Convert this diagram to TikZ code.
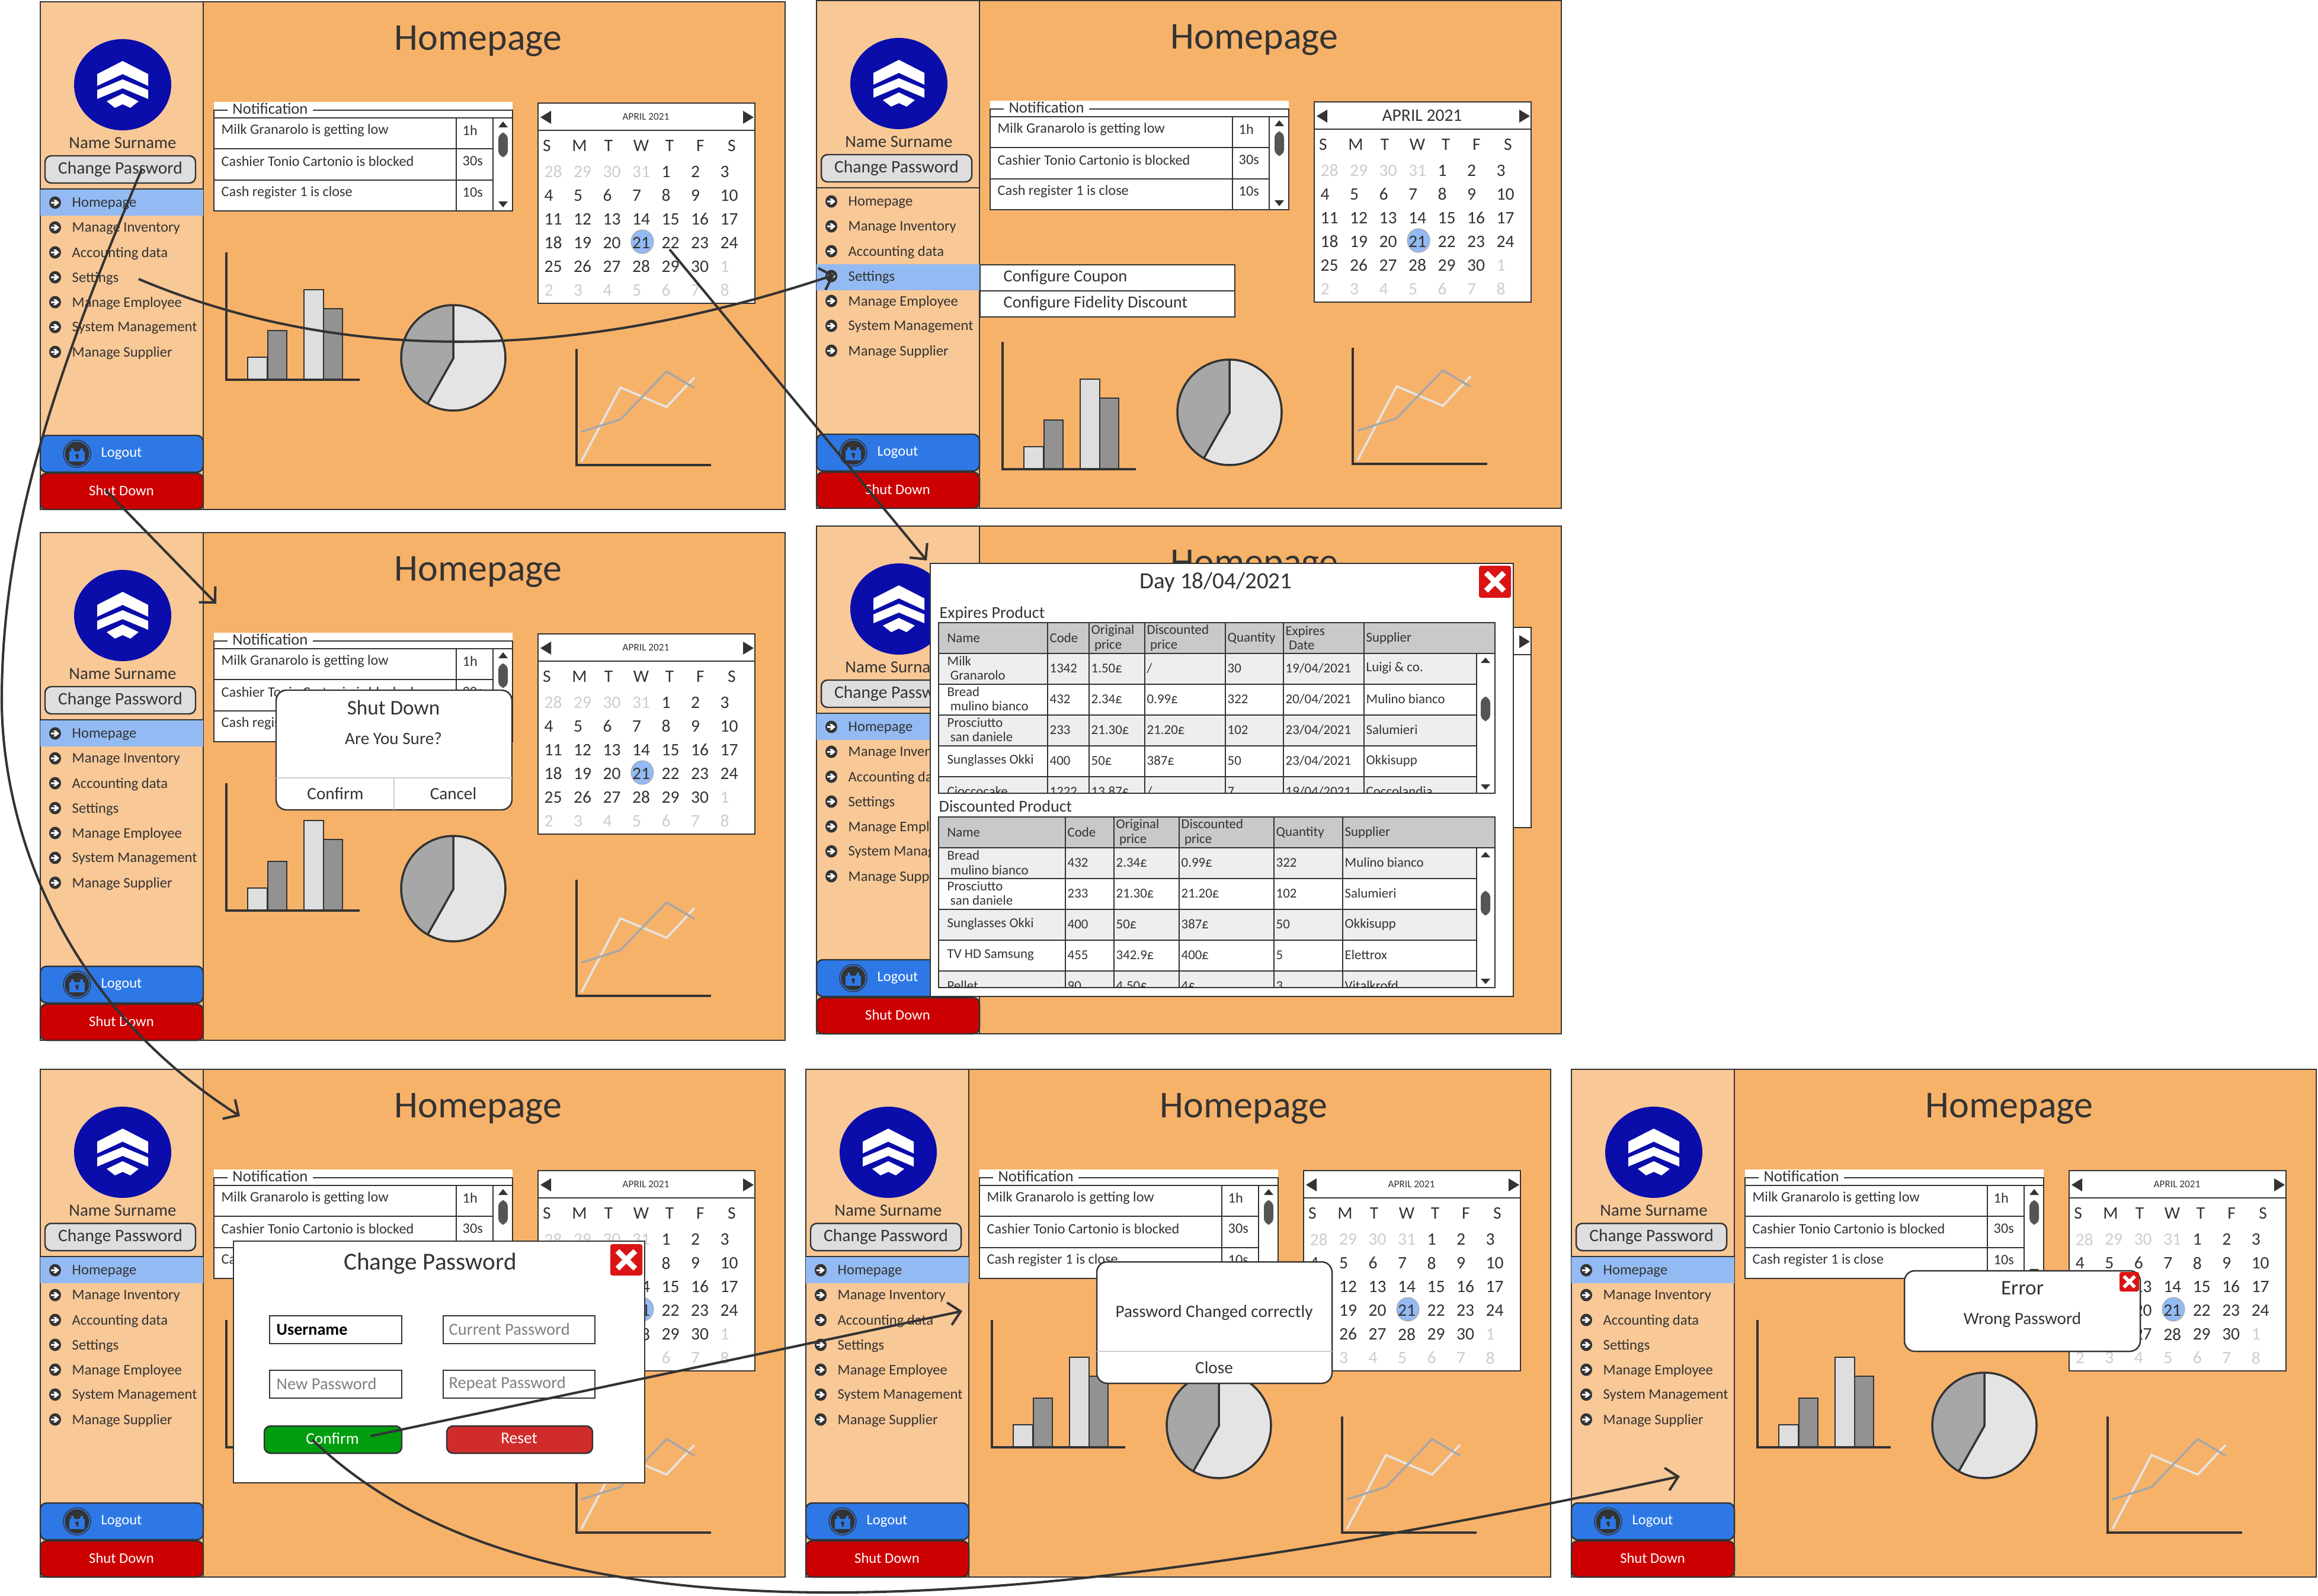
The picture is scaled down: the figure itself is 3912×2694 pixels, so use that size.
\documentclass[tikz,border=0pt]{standalone}
\usepackage{fontspec}
\setmainfont{Carlito}
\usetikzlibrary{arrows.meta}

% Text sizes, 1 unit of the picture is 0.01cm
\tikzset{
	every node/.style={inner sep=0pt, text=inkdark},
	pagetitle/.style={font=\fontsize{18.2}{19}\selectfont},
	nametext/.style={font=\fontsize{8.2}{9}\selectfont},
	menutext/.style={font=\fontsize{7}{8}\selectfont, anchor=west},
	rowtext/.style={font=\fontsize{6.9}{7}\selectfont, anchor=west},
	datetext/.style={font=\fontsize{8.4}{9}\selectfont},
	celltext/.style={font=\fontsize{6.5}{6.9}\selectfont, anchor=west, align=left},
	sectiontext/.style={font=\fontsize{8}{8}\selectfont, anchor=west},
	fieldtext/.style={font=\fontsize{8.1}{8}\selectfont, anchor=west, text=gray},
	dialogtitle/.style={font=\fontsize{10}{11}\selectfont},
	dialogtext/.style={font=\fontsize{8.3}{9}\selectfont},
	boxline/.style={draw=inkdark, line width=0.7pt},
	dialogbox/.style={boxline, fill=white, rounded corners=5pt},
	flowarrow/.style={draw=inkdark, line width=1.15pt, -{Straight Barb[length=5.5pt,width=11pt]}},
}

% One homepage screen: name, left, top, top of the marked menu row, shift of bars, shift of pie, size of month
\newcommand{\homescreen}[7]{
	\begin{scope}[shift={(#2,#3)}]
		% Main area and side bar
		\draw[boxline, fill=mainorange] (0,0) rectangle (1257,857);
		\draw[boxline, fill=sideorange] (0,0) rectangle (275,857);
		\node[pagetitle] (#1-title) at (739,66) {Homepage};

		% Logo
		\fill[logoblue] (139,140) ellipse [x radius=82, y radius=77];
		\fill[white] (96,122) -- (139,100) -- (182,122) -- (182,142) -- (139,122) -- (96,142) -- cycle;
		\fill[white] (96,149) -- (139,131) -- (182,149) -- (182,164) -- (139,146) -- (96,164) -- cycle;
		\fill[white] (112,168) -- (139,155) -- (166,168) -- (152,179) -- (139,173) -- (126,179) -- cycle;
		\node[nametext] (#1-name) at (139,238) {Name Surname};

		% Change password button
		\draw[boxline, fill=buttongray, rounded corners=3pt] (8,260) rectangle (262,306);
		\node[font=\fontsize{8.4}{9}\selectfont] (#1-change) at (135,283) {Change Password};
		\draw[boxline] (0,316) -- (275,316);

		% Menu
		\fill[markblue] (0,#4) rectangle (275,#4+44);
		\foreach \lbl/\my [count=\k] in {Homepage/339, Manage Inventory/381, Accounting data/423, Settings/465, Manage Employee/507, System Management/549, Manage Supplier/591} {
			\fill[inkdark] (25,\my) ellipse [x radius=10, y radius=10.5];
			\fill[white] (18,\my-1.5) -- (25,\my-1.5) -- (22,\my-5) -- (26,\my-5) -- (32,\my) -- (26,\my+5) -- (22,\my+5) -- (25,\my+1.5) -- (18,\my+1.5) -- cycle;
			\node[menutext] (#1-menu\k) at (53,\my+2) {\lbl};
		}

		% Logout button
		\draw[boxline, fill=logoutblue, rounded corners=3pt] (0,732) rectangle (275,794);
		\draw[inkdark, line width=0.4pt] (62,763) ellipse [x radius=23, y radius=23];
		\fill[inkdark] (62,763) ellipse [x radius=20.5, y radius=20.5];
		\draw[logoutblue, line width=1pt] (54,761) -- (54,754) arc [start angle=180, end angle=360, x radius=8, y radius=-8] -- (70,761);
		\fill[logoutblue] (49,759) rectangle (75,776);
		\fill[inkdark] (62,766) ellipse [x radius=3, y radius=3];
		\fill[inkdark] (60.5,766) rectangle (63.5,772);
		\node[font=\fontsize{7}{8}\selectfont, text=white] (#1-logout) at (137,763) {Logout};

		% Shut down button
		\draw[boxline, fill=shutred, rounded corners=3pt] (0,796) rectangle (275,857);
		\node[font=\fontsize{7}{8}\selectfont, text=white] (#1-shut) at (137,825) {Shut Down};

		% Notification panel
		\fill[white] (293,169) rectangle (797,353);
		\draw[boxline] (293,183) rectangle (797,353);
		\draw[boxline] (293,196) -- (797,196);
		\node[font=\fontsize{7.6}{8}\selectfont, anchor=west, fill=white, inner xsep=2.5pt] (#1-notif) at (315,180) {Notification};
		\foreach \ntop/\nbot/\ntxt/\ntime [count=\k] in {196/248/Milk Granarolo is getting low/1h, 248/301/Cashier Tonio Cartonio is blocked/30s, 301/353/Cash register 1 is close/10s} {
			\draw[boxline] (293,\ntop) rectangle (702,\nbot);
			\draw[boxline] (702,\ntop) rectangle (764,\nbot);
			\node[rowtext] (#1-note\k) at (305,\ntop+21) {\ntxt};
			\node[rowtext] (#1-time\k) at (712,\ntop+21) {\ntime};
		}
		\fill[thumbgray, rounded corners=3pt] (773,221) rectangle (789,262);
		\fill[inkdark] (781,202) -- (789,212) -- (773,212) -- cycle;
		\fill[inkdark] (781,347) -- (789,337) -- (773,337) -- cycle;

		% Calendar
		\draw[boxline, fill=white] (840,171) rectangle (1206,509);
		\draw[boxline] (840,217) -- (1206,217);
		\fill[inkdark] (844,195) -- (862,184) -- (862,206) -- cycle;
		\fill[inkdark] (1204,195) -- (1186,184) -- (1186,206) -- cycle;
		\node[font=#7] (#1-month) at (1022,194) {APRIL 2021};
		\foreach \wday/\wx [count=\k] in {S/855, M/910, T/959, W/1014, T/1062, F/1114, S/1167} {
			\node[datetext] (#1-wd\k) at (\wx,243) {\wday};
		}
		\fill[markblue, draw=gray!70, line width=0.3pt] (1016,405) ellipse [x radius=19, y radius=20];
		\foreach \dnum [count=\cnt from 0] in {28,29,30,31,1,2,3,4,5,6,7,8,9,10,11,12,13,14,15,16,17,18,19,20,21,22,23,24,25,26,27,28,29,30,1,2,3,4,5,6,7,8} {
			\pgfmathtruncatemacro{\col}{mod(\cnt,7)}
			\pgfmathtruncatemacro{\row}{int(\cnt/7)}
			\ifnum\cnt<4 \def\dcol{dategray}\else\ifnum\cnt>33 \def\dcol{dategray}\else\def\dcol{inkdark}\fi\fi
			\node[datetext, anchor=west, text=\dcol] (#1-d\cnt) at ({850+49.5*\col},{287+40*\row}) {\dnum};
		}

		% Bar chart
		\begin{scope}[yshift=#5*-0.01cm]
			\draw[boxline, fill=barlight] (350,600) rectangle (383,638);
			\draw[boxline, fill=bardark] (384,555) rectangle (416,638);
			\draw[boxline, fill=barlight] (445,486) rectangle (478,638);
			\draw[boxline, fill=bardark] (478,518) rectangle (510,638);
			\draw[draw=inkdark, line width=1pt] (314,423) -- (314,638) -- (539,638);
		\end{scope}

		% Pie chart
		\begin{scope}[yshift=#6*-0.01cm]
			\fill[barlight!80!white] (697,601) ellipse [x radius=88, y radius=89];
			\fill[piedark] (697,602) -- (697,512) arc [start angle=-90, end angle=-240, x radius=88, y radius=89] -- cycle;
			\draw[draw=inkdark, line width=1pt] (697,601) ellipse [x radius=88, y radius=89];
			\draw[draw=inkdark, line width=1pt] (697,512) -- (697,602) -- (654,678);
		\end{scope}

		% Line chart
		\draw[draw=inkdark, line width=1pt] (905,586) -- (905,782) -- (1132,782);
		\draw[draw=barlight!80!white, line width=1pt] (913,776) -- (979,651) -- (1057,684) -- (1104,634);
		\draw[draw=piedark, line width=1pt] (913,726) -- (979,705) -- (1057,624) -- (1104,652);
	\end{scope}
}

% Red close button: left, top, right, bottom, width of the cross
\newcommand{\closebox}[5]{
	\fill[closered, rounded corners=1pt] (#1,#2) rectangle (#3,#4);
	\draw[white, line width=#5] ({#1+0.22*(#3-#1)},{#2+0.22*(#4-#2)}) -- ({#3-0.22*(#3-#1)},{#4-0.22*(#4-#2)});
	\draw[white, line width=#5] ({#3-0.22*(#3-#1)},{#2+0.22*(#4-#2)}) -- ({#1+0.22*(#3-#1)},{#4-0.22*(#4-#2)});
}

\begin{document}
\begin{tikzpicture}[x=0.01cm, y=-0.01cm]
	% Define colors
	\definecolor{inkdark}{RGB}{51, 51, 51}
	\definecolor{mainorange}{RGB}{247, 178, 106}
	\definecolor{sideorange}{RGB}{248, 200, 150}
	\definecolor{logoblue}{RGB}{10, 13, 170}
	\definecolor{markblue}{RGB}{147, 186, 242}
	\definecolor{logoutblue}{RGB}{46, 120, 230}
	\definecolor{shutred}{RGB}{204, 0, 0}
	\definecolor{closered}{RGB}{218, 20, 20}
	\definecolor{buttongray}{RGB}{222, 222, 222}
	\definecolor{thumbgray}{RGB}{85, 85, 85}
	\definecolor{dategray}{RGB}{205, 205, 205}
	\definecolor{barlight}{RGB}{222, 222, 222}
	\definecolor{bardark}{RGB}{146, 146, 146}
	\definecolor{piedark}{RGB}{167, 167, 167}
	\definecolor{headgray}{RGB}{201, 201, 201}
	\definecolor{rowgray}{RGB}{238, 238, 238}
	\definecolor{okgreen}{RGB}{0, 158, 15}
	\definecolor{resetred}{RGB}{208, 44, 44}
	\useasboundingbox (0,0) rectangle (3912,2694);

	% ===== SCREENS =====
	\homescreen{home}{68}{3}{317}{0}{0}{\fontsize{4.9}{5}\selectfont}
	\homescreen{conf}{1378}{1}{445}{153}{94}{\fontsize{8.4}{9}\selectfont}
	\homescreen{shut}{68}{899}{317}{0}{0}{\fontsize{4.9}{5}\selectfont}
	\homescreen{day}{1378}{888}{317}{0}{0}{\fontsize{4.9}{5}\selectfont}
	\homescreen{pass}{68}{1805}{317}{0}{0}{\fontsize{4.9}{5}\selectfont}
	\homescreen{okay}{1360}{1805}{317}{0}{0}{\fontsize{4.9}{5}\selectfont}
	\homescreen{fail}{2652}{1805}{317}{0}{0}{\fontsize{4.9}{5}\selectfont}

	% ===== SETTINGS SUBMENU =====
	\draw[boxline, fill=white] (1654,447) rectangle (2084,491);
	\draw[boxline, fill=white] (1654,491) rectangle (2084,535);
	\node[font=\fontsize{8.1}{9}\selectfont, anchor=west] (coupon) at (1693,468) {Configure Coupon};
	\node[font=\fontsize{8.1}{9}\selectfont, anchor=west] (fidelity) at (1693,512) {Configure Fidelity Discount};

	% ===== SHUT DOWN DIALOG =====
	\draw[dialogbox] (466,1165) rectangle (864,1367);
	\draw[draw=dategray, line width=0.7pt] (466,1313) -- (864,1313);
	\draw[draw=dategray, line width=0.7pt] (665,1313) -- (665,1367);
	\node[dialogtitle] (shuttitle) at (664,1194) {Shut Down};
	\node[dialogtext] (shutsure) at (664,1247) {Are You Sure?};
	\node[dialogtext] (shutok) at (566,1339) {Confirm};
	\node[dialogtext] (shutno) at (765,1339) {Cancel};

	% ===== DAY DIALOG =====
	\draw[boxline, fill=white] (1570,951) rectangle (2554,1682);
	\closebox{2496}{955}{2550}{1009}{2.6pt}
	\node[font=\fontsize{11.1}{12}\selectfont] (daytitle) at (2052,983) {Day 18/04/2021};
	\node[sectiontext] (expires) at (1585,1036) {Expires Product};

	% Expires table
	\begin{scope}
		\clip (1584,1051) rectangle (2492,1339);
		\foreach \ry/\rfill/\cells in {
			1103/rowgray/{{Milk\\\hspace{1.5pt}Granarolo},1342,1.50£,/,30,19/04/2021,Luigi \& co.},
			1155/white/{{Bread\\\hspace{1.5pt}mulino bianco},432,2.34£,0.99£,322,20/04/2021,Mulino bianco},
			1207/rowgray/{{Prosciutto\\\hspace{1.5pt}san daniele},233,21.30£,21.20£,102,23/04/2021,Salumieri},
			1259/white/{Sunglasses Okki,400,50£,387£,50,23/04/2021,Okkisupp},
			1311/rowgray/{Cioccocake,1222,13.87£,/,7,19/04/2021,Coccolandia}} {
			\draw[boxline, fill=\rfill] (1584,\ry) rectangle (2492,\ry+52);
			\foreach \cell [count=\cnt] in \cells {
				\pgfmathsetmacro{\cx}{{1598,1771,1841,1935,2071,2169,2305}[\cnt-1]}
				\node[celltext] (exp-\ry-\cnt) at (\cx,\ry+25) {\cell};
			}
		}
		\foreach \cx in {1768,1838,1932,2068,2166,2302} {
			\draw[boxline] (\cx,1103) -- (\cx,1339);
		}
	\end{scope}
	\draw[boxline, fill=headgray] (1584,1051) rectangle (2523,1103);
	\foreach \cx in {1768,1838,1932,2068,2166,2302} {
		\draw[boxline] (\cx,1051) -- (\cx,1103);
	}
	\foreach \cell/\cx [count=\cnt] in {Name/1598, Code/1771, {Original\\\hspace{1.5pt}price}/1841, {Discounted\\\hspace{1.5pt}price}/1935, Quantity/2071, {Expires\\\hspace{1.5pt}Date}/2169, Supplier/2305} {
		\node[celltext] (exphead\cnt) at (\cx,1077) {\cell};
	}
	\draw[boxline] (1584,1051) rectangle (2523,1339);
	\draw[boxline] (2492,1103) -- (2492,1339);
	\fill[thumbgray, rounded corners=3pt] (2499,1176) rectangle (2515,1217);
	\fill[inkdark] (2507,1110) -- (2515,1119) -- (2499,1119) -- cycle;
	\fill[inkdark] (2507,1333) -- (2515,1324) -- (2499,1324) -- cycle;

	% Discounted table
	\node[sectiontext] (discounted) at (1584,1361) {Discounted Product};
	\begin{scope}
		\clip (1584,1379) rectangle (2492,1667);
		\foreach \ry/\rfill/\cells in {
			1431/rowgray/{{Bread\\\hspace{1.5pt}mulino bianco},432,2.34£,0.99£,322,Mulino bianco},
			1483/white/{{Prosciutto\\\hspace{1.5pt}san daniele},233,21.30£,21.20£,102,Salumieri},
			1535/rowgray/{Sunglasses Okki,400,50£,387£,50,Okkisupp},
			1587/white/{TV HD Samsung,455,342.9£,400£,5,Elettrox},
			1639/rowgray/{Pellet,90,4.50£,4£,3,Vitalkrofd}} {
			\draw[boxline, fill=\rfill] (1584,\ry) rectangle (2492,\ry+52);
			\foreach \cell [count=\cnt] in \cells {
				\pgfmathsetmacro{\cx}{{1598,1801,1883,1993,2153,2269}[\cnt-1]}
				\node[celltext] (dis-\ry-\cnt) at (\cx,\ry+25) {\cell};
			}
		}
		\foreach \cx in {1798,1880,1990,2150,2266} {
			\draw[boxline] (\cx,1431) -- (\cx,1667);
		}
	\end{scope}
	\draw[boxline, fill=headgray] (1584,1379) rectangle (2523,1431);
	\foreach \cx in {1798,1880,1990,2150,2266} {
		\draw[boxline] (\cx,1379) -- (\cx,1431);
	}
	\foreach \cell/\cx [count=\cnt] in {Name/1598, Code/1801, {Original\\\hspace{1.5pt}price}/1883, {Discounted\\\hspace{1.5pt}price}/1993, Quantity/2153, Supplier/2269} {
		\node[celltext] (dishead\cnt) at (\cx,1405) {\cell};
	}
	\draw[boxline] (1584,1379) rectangle (2523,1667);
	\draw[boxline] (2492,1431) -- (2492,1667);
	\fill[thumbgray, rounded corners=3pt] (2499,1504) rectangle (2515,1545);
	\fill[inkdark] (2507,1438) -- (2515,1447) -- (2499,1447) -- cycle;
	\fill[inkdark] (2507,1661) -- (2515,1652) -- (2499,1652) -- cycle;

	% ===== CHANGE PASSWORD DIALOG =====
	\draw[boxline, fill=white] (394,2095) rectangle (1088,2503);
	\closebox{1030}{2100}{1084}{2153}{2.6pt}
	\node[font=\fontsize{11.7}{12}\selectfont] (passtitle) at (726,2133) {Change Password};
	\draw[boxline] (455,2221) rectangle (678,2268);
	\draw[boxline] (748,2221) rectangle (1004,2268);
	\draw[boxline] (455,2313) rectangle (678,2360);
	\draw[boxline] (748,2313) rectangle (1004,2360);
	\node[fieldtext, font=\fontsize{8}{8}\selectfont\bfseries, text=black] (username) at (466,2244) {Username};
	\node[fieldtext] (current) at (757,2244) {Current Password};
	\node[fieldtext] (newpass) at (466,2336) {New Password};
	\node[fieldtext] (repeat) at (757,2336) {Repeat Password};
	\draw[boxline, fill=okgreen, rounded corners=3pt] (446,2407) rectangle (678,2453);
	\draw[boxline, fill=resetred, rounded corners=3pt] (754,2407) rectangle (1000,2453);
	\node[font=\fontsize{7.8}{8}\selectfont, text=white] (passok) at (561,2428) {Confirm};
	\node[font=\fontsize{7.8}{8}\selectfont, text=white] (passreset) at (876,2428) {Reset};

	% ===== PASSWORD CHANGED DIALOG =====
	\draw[dialogbox] (1851,2130) rectangle (2248,2335);
	\draw[draw=dategray, line width=0.7pt] (1851,2281) -- (2248,2281);
	\node[dialogtext] (oktext) at (2049,2216) {Password Changed correctly};
	\node[dialogtext] (okclose) at (2049,2308) {Close};

	% ===== ERROR DIALOG =====
	\draw[dialogbox] (3214,2145) rectangle (3612,2281);
	\node[dialogtitle] (failtitle) at (3413,2174) {Error};
	\node[dialogtext] (failtext) at (3413,2228) {Wrong Password};
	\closebox{3577}{2147}{3610}{2180}{1.6pt}

	% ===== ARROWS =====
	\coordinate (fromSettings) at (234,471);
	\coordinate (toSettings) at (1408,464);
	\coordinate (fromChange) at (239,286);
	\coordinate (bendChange) at (3,1182);
	\coordinate (toPass) at (405,1884);
	\coordinate (fromShut) at (178,827);
	\coordinate (toShut) at (365,1019);
	\coordinate (fromDate) at (1130,421);
	\coordinate (toDay) at (1564,946);
	\coordinate (fromOk) at (626,2424);
	\coordinate (toOkay) at (1624,2213);
	\coordinate (fromWrong) at (527,2430);
	\coordinate (toFail) at (2835,2492);
	\draw[flowarrow] (fromSettings) .. controls (600,625) and (1000,600) .. (toSettings);
	\draw[flowarrow] (fromChange) .. controls (90,640) and (3,900) .. (bendChange) .. controls (3,1350) and (70,1670) .. (toPass);
	\draw[flowarrow] (fromShut) -- (toShut);
	\draw[flowarrow] (fromDate) -- (toDay);
	\draw[flowarrow] (fromOk) -- (toOkay);
	\draw[flowarrow] (fromWrong) .. controls (900,2790) and (1700,2737) .. (toFail);
\end{tikzpicture}
\end{document}
